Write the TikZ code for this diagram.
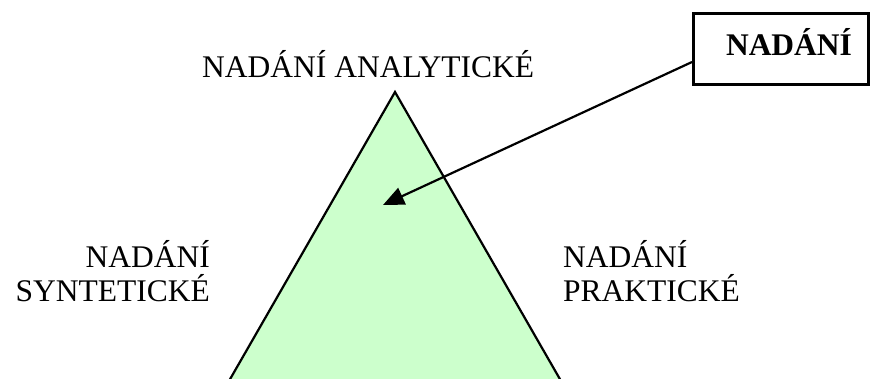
\documentclass[tikz,border=0pt]{standalone}
\usepackage{fontspec}
\setmainfont{Liberation Serif}
\usetikzlibrary{arrows.meta}
\definecolor{trifill}{HTML}{CCFFCC}
\begin{document}
\begin{tikzpicture}[x=1pt,y=-1pt,
  lbl/.style={font=\fontsize{31.5}{34}\selectfont, inner sep=0pt},
  boxlbl/.style={font=\fontsize{31.5}{34}\selectfont\bfseries, inner sep=0pt},
  side/.style={line width=2.2pt, line join=miter},
  pointer/.style={line width=2.2pt, -{Triangle[length=21pt,width=18pt]}}]
\useasboundingbox (0,0) rectangle (872,378);
\clip (0,0) rectangle (872,378);
% triangle
\coordinate (apex) at (395,92);
\coordinate (bl) at (229,381);
\coordinate (br) at (561,381);
\fill[trifill] (bl) -- (apex) -- (br) -- cycle;
\draw[side] (bl) -- (apex) -- (br);
% labels
\node[lbl, anchor=base west] (top) at (202,77) {NADÁNÍ ANALYTICKÉ};
\node[lbl, anchor=base east] (l1) at (210,267) {NADÁNÍ};
\node[lbl, anchor=base east] (l2) at (210,301) {SYNTETICKÉ};
\node[lbl, anchor=base west] (r1) at (563,267) {NADÁNÍ};
\node[lbl, anchor=base west] (r2) at (563,301) {PRAKTICKÉ};
% box
\node[draw, line width=3pt, minimum width=175pt, minimum height=71pt, inner sep=0pt] (box) at (781,49) {};
\node[boxlbl, anchor=base] (boxt) at (789,55) {NADÁNÍ};
\coordinate (tip) at (383,205);
\draw[pointer] (box.west |- 0,62) -- (tip);
\end{tikzpicture}
\end{document}
